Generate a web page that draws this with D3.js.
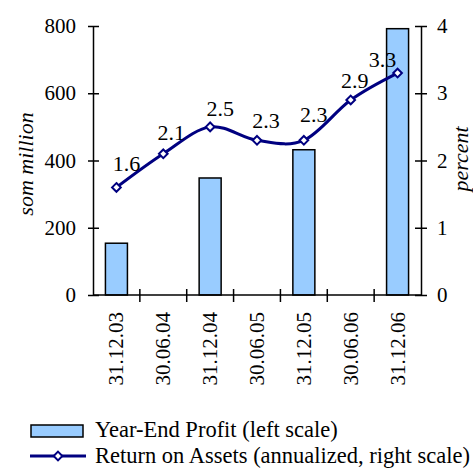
<!DOCTYPE html>
<html>
<head>
<meta charset="utf-8">
<script src="https://cdn.jsdelivr.net/npm/d3@7"></script>
<style>
body { margin: 0; background: #fff; }
</style>
</head>
<body>
<div class="chart"></div>
<script>
var dates = ["31.12.03", "30.06.04", "31.12.04", "30.06.05", "31.12.05", "30.06.06", "31.12.06"];
var profit = [154, null, 348, null, 432, null, 792]; // som million, year-end only
var roa = [1.6, 2.1, 2.5, 2.3, 2.3, 2.9, 3.3]; // percent
var leftTicks = [0, 200, 400, 600, 800];
var rightTicks = [0, 1, 2, 3, 4];
// hand placed data labels (offset from marker)
var labelDx = [10, 8, 10, 9, 10, 4, -15];
var labelDy = [16, 14, 11, 12, 18, 12, 6];

var width = 473, height = 474;
var plotLeft = 93, plotRight = 421, plotTop = 26, plotBottom = 295;
var fs = 21;

var svg = d3.select(".chart").append("svg")
	.attr("width", width)
	.attr("height", height);

var step = (plotRight - plotLeft) / dates.length;
var xCenter = function (d) { return plotLeft + (dates.indexOf(d) + 0.5) * step; };

var yL = d3.scaleLinear().domain([0, 800]).range([plotBottom, plotTop]);
var yR = d3.scaleLinear().domain([0, 4]).range([plotBottom, plotTop]);

// bars
svg.append("g").selectAll("rect")
	.data(dates.filter(function (d, i) { return profit[i] != null; }))
	.enter().append("rect")
	.attr("x", function (d) { return xCenter(d) - 11; })
	.attr("width", 22)
	.attr("y", function (d) { return yL(profit[dates.indexOf(d)]); })
	.attr("height", function (d) { return plotBottom - yL(profit[dates.indexOf(d)]); })
	.attr("fill", "#99ccff")
	.attr("stroke", "#000")
	.attr("stroke-width", 1.5);

// left axis
var axL = svg.append("g")
	.attr("transform", "translate(" + plotLeft + ",0)")
	.call(d3.axisLeft(yL).tickValues(leftTicks).tickSize(5).tickPadding(12).tickSizeOuter(0));
axL.selectAll(".tick line").attr("x2", 6).attr("x1", -5).attr("stroke-width", 1.5);

// right axis
var axR = svg.append("g")
	.attr("transform", "translate(" + plotRight + ",0)")
	.call(d3.axisRight(yR).tickValues(rightTicks).tickFormat(d3.format("d")).tickSize(6).tickPadding(10).tickSizeOuter(0));
axR.selectAll(".tick line").attr("x1", -6).attr("x2", 6).attr("stroke-width", 1.5);

// x axis with ticks between categories
var xAx = svg.append("g")
	.attr("transform", "translate(0," + plotBottom + ")");
xAx.append("line").attr("x1", plotLeft).attr("x2", plotRight).attr("stroke", "#000").attr("stroke-width", 1.5);
var bounds = d3.range(1, dates.length).map(function (i) { return plotLeft + i * step; });
xAx.selectAll(".sep").data(bounds).enter().append("line")
	.attr("x1", function (d) { return d; }).attr("x2", function (d) { return d; })
	.attr("y1", -6).attr("y2", 7)
	.attr("stroke", "#000").attr("stroke-width", 1.5);
xAx.selectAll(".lab").data(dates).enter().append("text")
	.attr("transform", function (d) { return "translate(" + (xCenter(d) + 7) + ",17) rotate(-90)"; })
	.attr("text-anchor", "end")
	.attr("font-size", fs)
	.text(function (d) { return d; });

svg.selectAll(".domain").attr("stroke", "#000").attr("stroke-width", 1.5);
svg.selectAll(".tick text").attr("font-size", fs).attr("fill", "#000");

// axis titles
svg.append("text")
	.attr("transform", "translate(33,164) rotate(-90)")
	.attr("text-anchor", "middle")
	.attr("font-size", 22)
	.attr("font-style", "italic")
	.text("som million");
svg.append("text")
	.attr("transform", "translate(468,159) rotate(-90)")
	.attr("text-anchor", "middle")
	.attr("font-size", 22)
	.attr("font-style", "italic")
	.text("percent");

// ROA line
var line = d3.line()
	.x(function (d, i) { return xCenter(dates[i]); })
	.y(function (d) { return yR(d); })
	.curve(d3.curveCardinal.tension(0));
svg.append("path")
	.datum(roa)
	.attr("d", line)
	.attr("fill", "none")
	.attr("stroke", "#000080")
	.attr("stroke-width", 3);

var diamond = d3.symbol().type(d3.symbolDiamond2).size(48);
svg.append("g").selectAll("path")
	.data(roa)
	.enter().append("path")
	.attr("d", diamond)
	.attr("transform", function (d, i) { return "translate(" + xCenter(dates[i]) + "," + yR(d) + ")"; })
	.attr("fill", "#fff")
	.attr("stroke", "#000080")
	.attr("stroke-width", 2);

svg.append("g").selectAll("text")
	.data(roa)
	.enter().append("text")
	.attr("x", function (d, i) { return xCenter(dates[i]) + labelDx[i]; })
	.attr("y", function (d, i) { return yR(d) - labelDy[i]; })
	.attr("text-anchor", "middle")
	.attr("font-size", 22)
	.text(function (d) { return d.toFixed(1); });

// legend
var leg = svg.append("g");
leg.append("rect")
	.attr("x", 31).attr("y", 425).attr("width", 52).attr("height", 12)
	.attr("fill", "#99ccff").attr("stroke", "#000").attr("stroke-width", 1.5);
leg.append("text").attr("x", 95).attr("y", 437).attr("font-size", 22.5)
	.text("Year-End Profit (left scale)");
leg.append("line").attr("x1", 30).attr("x2", 86).attr("y1", 456).attr("y2", 456)
	.attr("stroke", "#000080").attr("stroke-width", 3);
leg.append("path").attr("d", diamond).attr("transform", "translate(58,456)")
	.attr("fill", "#fff").attr("stroke", "#000080").attr("stroke-width", 2);
leg.append("text").attr("x", 95).attr("y", 463).attr("font-size", 22.5)
	.text("Return on Assets (annualized, right scale)");

// serif everywhere
svg.selectAll("text").style("font-family", "'Liberation Serif'");
</script>
</body>
</html>
